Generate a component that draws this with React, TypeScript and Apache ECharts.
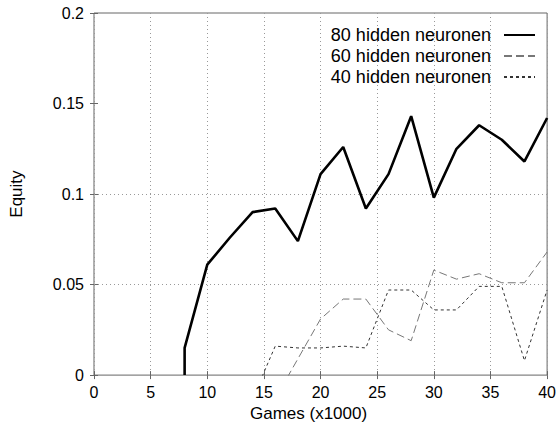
import React, { useEffect, useRef } from "react";
import * as echarts from "echarts";

const xs80 = [8, 8, 10, 12, 14, 16, 18, 20, 22, 24, 26, 28, 30, 32, 34, 36, 38, 40];
const v80 = [0, 0.015, 0.061, 0.076, 0.09, 0.092, 0.074, 0.111, 0.126, 0.092, 0.111, 0.143, 0.098, 0.125, 0.138, 0.13, 0.118, 0.142];

const xs60 = [16, 18, 20, 22, 24, 26, 28, 30, 32, 34, 36, 38, 40];
const v60 = [-0.013, 0.009, 0.031, 0.042, 0.042, 0.025, 0.019, 0.058, 0.053, 0.056, 0.051, 0.051, 0.068];

const xs40 = [14, 16, 18, 20, 22, 24, 26, 28, 30, 32, 34, 36, 38, 40];
const v40 = [-0.013, 0.016, 0.015, 0.015, 0.016, 0.015, 0.047, 0.047, 0.036, 0.036, 0.049, 0.049, 0.008, 0.047];

const seriesNames = ["80 hidden neuronen", "60 hidden neuronen", "40 hidden neuronen"];
const gridYs = [0.05, 0.1];

const FONT = "'Liberation Sans', Arial, Helvetica, sans-serif";

function pairs(xs: number[], vs: number[]) {
  return xs.map((x, i) => [x, vs[i]]);
}

export default function App() {
  const ref = useRef<HTMLDivElement>(null);
  useEffect(() => {
    if (!ref.current) return;
    const chart = echarts.init(ref.current, undefined, { renderer: "svg" });
    const tickCommon = { show: true, inside: true, length: 4, lineStyle: { color: "#666" } };
    chart.setOption({
      animation: false,
      backgroundColor: "#fff",
      textStyle: { fontFamily: FONT },
      grid: {
        left: 94,
        right: 11,
        top: 13,
        bottom: 50,
        show: true,
        borderColor: "#666",
        borderWidth: 1,
        backgroundColor: "transparent",
      },
      legend: {
        orient: "vertical",
        right: 23,
        top: 26,
        padding: 0,
        align: "right",
        itemWidth: 31,
        itemHeight: 14,
        itemGap: 3,
        itemStyle: { opacity: 0, color: "transparent", borderWidth: 0 },
        textStyle: { fontSize: 18, color: "#000", fontFamily: FONT, padding: [0, 8, 0, 0] },
        data: seriesNames,
      },
      xAxis: [
        {
          type: "value",
          min: 0,
          max: 40,
          interval: 5,
          name: "Games (x1000)",
          nameLocation: "middle",
          nameGap: 21,
          nameTextStyle: { fontSize: 17, color: "#000", fontFamily: FONT, padding: [0, 24, 0, 0] },
          axisLine: { show: false },
          axisTick: tickCommon,
          axisLabel: { fontSize: 16, color: "#000", margin: 9, fontFamily: FONT },
          splitLine: {
            show: true,
            lineStyle: { color: "#999", type: [1, 3], width: 1 },
          },
        },
        {
          type: "value",
          position: "top",
          min: 0,
          max: 40,
          interval: 5,
          axisLine: { show: false },
          axisTick: tickCommon,
          axisLabel: { show: false },
          splitLine: { show: false },
        },
      ],
      yAxis: [
        {
          type: "value",
          min: 0,
          max: 0.2,
          interval: 0.05,
          name: "Equity",
          nameLocation: "middle",
          nameGap: 69,
          nameTextStyle: { fontSize: 17, color: "#000", fontFamily: FONT },
          axisLine: { show: false },
          axisTick: tickCommon,
          axisLabel: { fontSize: 16, color: "#000", margin: 10, fontFamily: FONT },
          splitLine: { show: false },
        },
        {
          type: "value",
          position: "right",
          min: 0,
          max: 0.2,
          interval: 0.05,
          axisLine: { show: false },
          axisTick: tickCommon,
          axisLabel: { show: false },
          splitLine: { show: false },
        },
      ],
      series: [
        {
          name: seriesNames[0],
          type: "line",
          data: pairs(xs80, v80),
          symbol: "none",
          clip: true,
          z: 5,
          lineStyle: { color: "#000", width: 2.6, type: "solid" },
          itemStyle: { color: "#000" },
          markLine: {
            silent: true,
            symbol: "none",
            label: { show: false },
            lineStyle: { color: "#999", type: [1, 3], width: 1 },
            data: gridYs.map((y) => ({ yAxis: y })),
            z: 1,
          },
        },
        {
          name: seriesNames[1],
          type: "line",
          data: pairs(xs60, v60),
          symbol: "none",
          clip: true,
          z: 4,
          lineStyle: { color: "#777", width: 1, type: [8, 4] },
          itemStyle: { color: "#777" },
        },
        {
          name: seriesNames[2],
          type: "line",
          data: pairs(xs40, v40),
          symbol: "none",
          clip: true,
          z: 3,
          lineStyle: { color: "#333", width: 1, type: [3, 3] },
          itemStyle: { color: "#333" },
        },
      ],
    });
    return () => chart.dispose();
  }, []);
  return <div ref={ref} style={{ width: 559, height: 427, position: "absolute", left: 0, top: 0 }} />;
}
